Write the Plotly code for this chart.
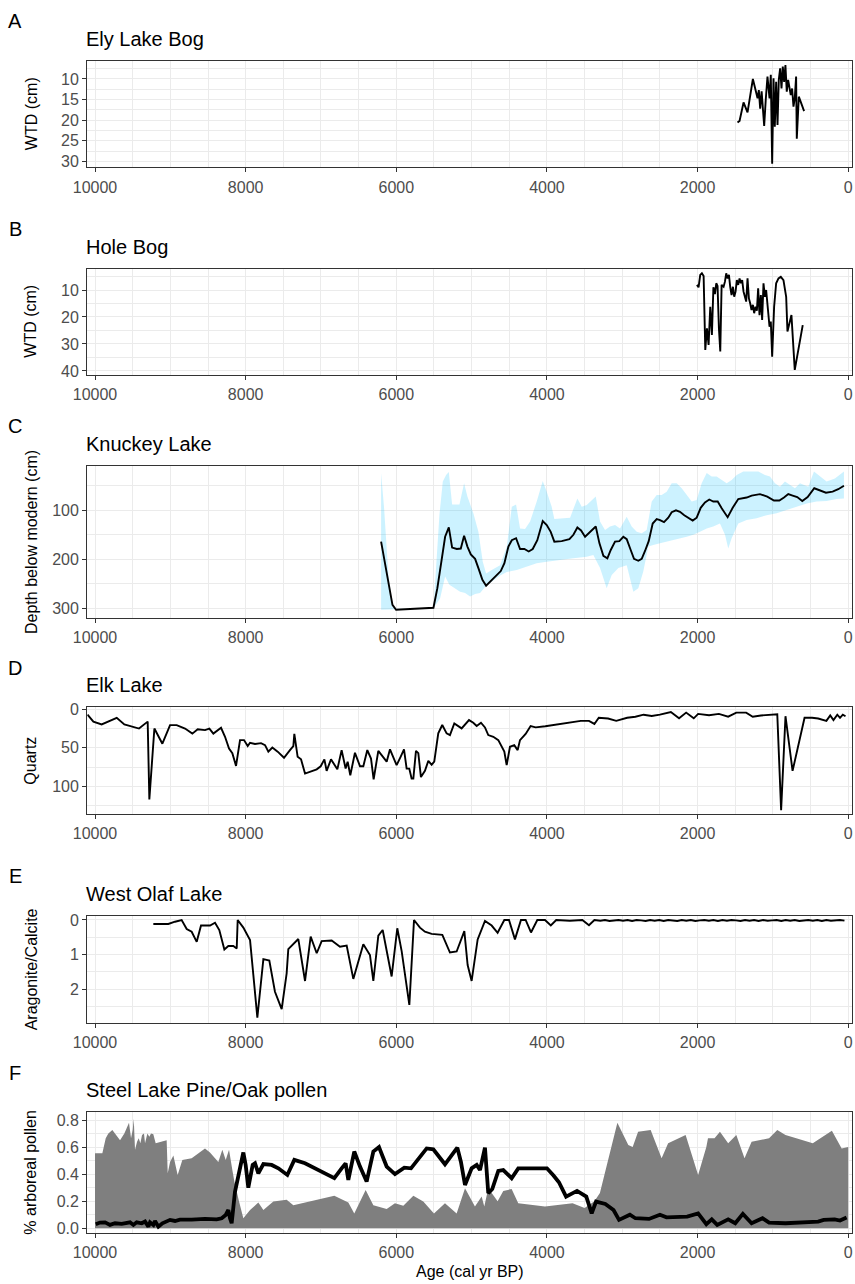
import plotly.graph_objects as go

# ---------------------------------------------------------------- data
# A: Ely Lake Bog water-table depth
ely_age = [1470, 1443, 1390, 1337, 1266, 1231, 1204, 1187, 1169, 1150, 1116, 1095,
           1072, 1045, 1028, 1010, 992, 975, 957, 939, 922, 904, 886, 869, 851, 834,
           816, 798, 780, 763, 745, 727, 710, 692, 683, 656, 586]
ely_wtd = [20.6, 20.2, 15.7, 18.1, 10.0, 12.4, 14.7, 12.7, 17.2, 13.0, 21.4, 15.0,
           9.4, 14.7, 9.0, 30.6, 9.8, 21.6, 10.7, 21.2, 10.2, 7.4, 12.3, 7.0, 10.7, 6.6,
           13.1, 10.2, 11.9, 13.9, 12.3, 16.7, 14.7, 9.4, 24.5, 14.3, 17.8]

# B: Hole Bog water-table depth
hole_age = [2009, 1987, 1965, 1943, 1920, 1898, 1876, 1854, 1832, 1810, 1790, 1770,
            1752, 1735, 1717, 1699, 1681, 1655, 1637, 1620, 1602, 1584, 1567, 1549,
            1531, 1514, 1496, 1479, 1461, 1443, 1425, 1408, 1390, 1372, 1355, 1337,
            1319, 1302, 1284, 1266, 1249, 1231, 1213, 1196, 1178, 1160, 1143, 1125,
            1107, 1090, 1063, 1045, 1028, 1010, 984, 957, 926, 895, 860, 824, 807,
            780, 754, 710, 604]
hole_wtd = [8.1, 9.0, 4.4, 3.8, 4.8, 32.2, 24.2, 30.4, 16.2, 26.7, 9.0, 11.5,
            7.5, 8.5, 24.2, 32.8, 8.1, 8.8, 6.9, 3.8, 5.7, 4.4, 8.8, 11.9,
            8.8, 12.5, 10.6, 6.3, 8.1, 5.7, 7.5, 6.3, 10.6, 12.5, 14.3, 5.7,
            13.1, 14.9, 17.4, 15.5, 18.6, 16.2, 17.7, 9.4, 19.3, 11.9, 21.1, 7.5,
            12.5, 10.0, 18.0, 23.6, 21.7, 34.7, 16.2, 7.5, 5.7, 5.1, 6.3, 12.5, 25.4,
            22.3, 19.3, 39.6, 23.0]

# C: Knuckey Lake reconstructed depth below modern, with uncertainty band
knuckey_age = [6202, 6126, 6051, 6003, 5507, 5455, 5397, 5352, 5303, 5259, 5197, 5144,
               5100, 5056, 5011, 4954, 4910, 4857, 4808, 4733, 4666, 4613, 4565, 4512,
               4467, 4410, 4357, 4300, 4242, 4189, 4128, 4056, 4003, 3950, 3902, 3804,
               3702, 3649, 3596, 3547, 3494, 3428, 3352, 3304, 3251, 3198, 3153, 3096,
               3039, 2986, 2941, 2888, 2844, 2787, 2742, 2698, 2649, 2596, 2543, 2499,
               2446, 2389, 2344, 2287, 2234, 2177, 2123, 2065, 2012, 1959, 1902, 1845,
               1792, 1733, 1680, 1601, 1534, 1460, 1349, 1282, 1172, 1075, 986, 915,
               853, 796, 738, 677, 610, 539, 451, 376, 296, 207, 133, 57]
knuckey_depth = [164, 232, 293, 303, 299, 259, 198, 154, 135, 176, 179, 178,
                 152, 174, 190, 199, 218, 242, 254, 242, 233, 224, 208, 174,
                 161, 157, 179, 179, 184, 179, 161, 122, 130, 144, 164, 163,
                 159, 150, 135, 141, 154, 144, 133, 167, 193, 198, 181, 164,
                 163, 154, 159, 181, 199, 203, 199, 183, 163, 127, 118, 120,
                 124, 115, 104, 100, 103, 110, 116, 121, 115, 95, 84, 78,
                 82, 82, 96, 114, 95, 77, 74, 70, 67, 72, 80, 80,
                 74, 67, 70, 73, 81, 73, 55, 59, 64, 62, 57, 50]

band_upper_age = [6202, 6162, 6105, 6051, 6003, 5507, 5428, 5383, 5339, 5303, 5259, 5162,
                  5100, 5056, 4977, 4910, 4852, 4808, 4733, 4622, 4533, 4467, 4410, 4357,
                  4291, 4224, 4136, 4056, 4003, 3937, 3902, 3693, 3596, 3538, 3472, 3352,
                  3295, 3229, 3163, 3096, 3030, 2941, 2875, 2808, 2742, 2676, 2609, 2543,
                  2477, 2410, 2344, 2277, 2211, 2145, 2078, 2012, 1946, 1879, 1813, 1747,
                  1680, 1614, 1548, 1481, 1393, 1194, 1105, 1039, 973, 906, 840, 774,
                  707, 641, 531, 455, 376, 287, 177, 57]
band_upper = [24, 96, 232, 297, 301, 301, 110, 41, 28, 22, 88, 88,
              45, 72, 106, 144, 205, 229, 222, 212, 174, 93, 88, 137,
              138, 123, 82, 40, 62, 93, 118, 115, 76, 93, 89, 72,
              123, 140, 133, 130, 137, 113, 133, 144, 147, 140, 82, 69,
              69, 62, 45, 45, 55, 69, 82, 79, 45, 24, 31, 31,
              38, 45, 38, 28, 21, 21, 28, 31, 45, 52, 41, 48,
              55, 45, 52, 21, 31, 41, 35, 21]

band_lower_age = [6202, 5507, 5419, 5352, 5295, 5220, 5153, 5087, 5020, 4954, 4888, 4808,
                  4733, 4622, 4533, 4401, 4268, 4136, 4003, 3826, 3649, 3472, 3384, 3295,
                  3207, 3140, 3052, 2941, 2853, 2787, 2721, 2654, 2588, 2499, 2410, 2322,
                  2234, 2145, 2057, 1968, 1879, 1792, 1703, 1636, 1593, 1548, 1460, 1349,
                  1216, 1083, 950, 818, 685, 552, 419, 287, 154, 57]
band_lower = [303, 300, 280, 235, 252, 259, 266, 269, 276, 271, 269, 254,
              246, 233, 226, 222, 215, 208, 205, 201, 198, 195, 191, 218,
              259, 232, 218, 212, 266, 259, 225, 174, 171, 167, 164, 160,
              157, 154, 150, 144, 137, 133, 127, 150, 178, 157, 127, 120,
              116, 110, 106, 99, 93, 86, 82, 81, 77, 76]

# D: Elk Lake quartz
elk_age = [10100, 10022, 9912, 9801, 9712, 9611, 9513, 9416, 9301, 9279, 9212, 9106,
           9004, 8916, 8805, 8708, 8637, 8540, 8482, 8429, 8327, 8274, 8221, 8177,
           8128, 8075, 8022, 7973, 7942, 7876, 7796, 7743, 7699, 7646, 7575, 7491,
           7412, 7367, 7354, 7310, 7265, 7212, 7057, 7004, 6955, 6925, 6867, 6783,
           6726, 6673, 6646, 6611, 6549, 6482, 6438, 6385, 6336, 6301, 6239, 6195,
           6128, 6084, 5996, 5943, 5898, 5863, 5828, 5797, 5774, 5739, 5708, 5673,
           5620, 5575, 5531, 5496, 5443, 5390, 5332, 5288, 5230, 5133, 5035, 4978,
           4933, 4876, 4823, 4779, 4712, 4646, 4566, 4535, 4491, 4434, 4389, 4358,
           4283, 4217, 4150, 4022, 3551, 3442, 3370, 3312, 3188, 3080, 2935, 2826,
           2717, 2609, 2500, 2355, 2246, 2152, 2051, 1993, 1848, 1717, 1594, 1486,
           1355, 1268, 1159, 942, 891, 833, 739, 580, 480, 399, 330, 290,
           239, 196, 145, 109, 72, 36]
elk_quartz = [7, 16, 19.7, 15, 11, 19.7, 22.8, 25, 16, 117, 25, 44.7,
              20.6, 20.6, 25, 31.6, 26, 27, 25, 31.6, 24, 35.7, 51, 57,
              73.5, 40, 40, 47.8, 43.5, 45, 44, 46.5, 55, 49.6, 55, 63,
              53, 47.8, 32, 61.7, 65, 83.5, 78, 74, 65, 80, 65, 78,
              53, 77, 68, 85.7, 56.5, 74, 74, 53, 64, 91, 54, 59.6,
              68, 52, 72.6, 61.7, 52, 77, 77, 90, 90, 54, 57, 88,
              80, 67, 72, 68, 31.3, 20.4, 31.3, 33.5, 18.3, 24.8, 14, 17.4,
              21.7, 17.4, 23.5, 33.5, 35.7, 40, 55, 72.6, 48.7, 46.5, 53, 40,
              32, 21.7, 23.5, 22, 15, 15, 19, 11, 12, 15, 11, 9.6,
              7, 8.7, 7, 3.5, 11.7, 4.3, 11.7, 6, 7.8, 6, 9.6, 4.3,
              4.3, 9.6, 8, 6.5, 131, 9, 80, 11, 11, 12, 14, 15,
              8, 14, 7, 11, 7, 9]

# E: West Olaf Lake aragonite/calcite ratio
olaf_age = [9226, 9027, 8938, 8850, 8783, 8717, 8650, 8593, 8473, 8407, 8350, 8283,
            8230, 8164, 8119, 8106, 8031, 7942, 7898, 7845, 7765, 7686, 7611, 7522,
            7456, 7434, 7301, 7212, 7137, 7057, 6991, 6858, 6748, 6659, 6571, 6438,
            6350, 6305, 6239, 6181, 6062, 5987, 5929, 5827, 5765, 5686, 5620, 5531,
            5389, 5288, 5199, 5097, 5053, 5000, 4920, 4823, 4734, 4655, 4566, 4504,
            4425, 4345, 4283, 4212, 4128, 4026, 3949, 3877, 3696, 3530, 3442, 3370,
            3290, 3230, 3170, 3110, 3050, 2990, 2930, 2870, 2810, 2750, 2690, 2630,
            2570, 2510, 2450, 2390, 2330, 2270, 2210, 2150, 2090, 2030, 1970, 1910,
            1850, 1790, 1730, 1670, 1610, 1550, 1490, 1430, 1370, 1310, 1250, 1190,
            1130, 1070, 1010, 950, 890, 830, 770, 710, 650, 590, 530, 470,
            410, 350, 290, 230, 170, 110, 50]
olaf_ratio = [0.115, 0.115, 0.05, 0.0, 0.26, 0.34, 0.63, 0.16, 0.16, 0.08, 0.29, 0.85,
              0.75, 0.75, 0.82, 0.0, 0.22, 0.58, 1.59, 2.82, 1.13, 1.17, 2.07, 2.57,
              1.54, 0.84, 0.55, 1.76, 0.48, 0.96, 0.61, 0.59, 0.77, 0.74, 1.70, 0.70,
              1.01, 1.76, 0.45, 0.29, 1.63, 0.24, 0.9, 2.45, 0.0, 0.22, 0.34, 0.40,
              0.43, 0.94, 0.91, 0.32, 1.3, 1.76, 0.56, 0.03, 0.16, 0.37, 0.0, 0.0,
              0.56, 0.0, 0.0, 0.36, 0.0, 0.0, 0.16, 0.0, 0.02, 0.0, 0.15, 0.0,
              0.02, 0.0, 0.03, 0.01, 0.0, 0.02, 0.0, 0.03, 0.0, 0.01, 0.03, 0.0,
              0.02, 0.0, 0.03, 0.0, 0.01, 0.03, 0.0, 0.02, 0.0, 0.03, 0.01, 0.0,
              0.02, 0.0, 0.03, 0.0, 0.02, 0.0, 0.01, 0.03, 0.0, 0.02, 0.0, 0.03,
              0.0, 0.02, 0.01, 0.0, 0.03, 0.0, 0.02, 0.0, 0.03, 0.01, 0.0, 0.02,
              0.0, 0.03, 0.0, 0.02, 0.01, 0.0, 0.02]

# F: Steel Lake pollen (grey area and black line)
steel_area_age = [10000, 9903, 9858, 9823, 9770, 9712, 9668, 9611, 9549, 9522, 9500, 9486,
                  9469, 9442, 9420, 9398, 9376, 9350, 9336, 9305, 9279, 9257, 9226, 9195,
                  9049, 9035, 9004, 8960, 8903, 8841, 8717, 8540, 8474, 8363, 8310, 8265,
                  8221, 8177, 8150, 8088, 8031, 7942, 7832, 7765, 7633, 7456, 7367, 6823,
                  6637, 6558, 6407, 6305, 6128, 6018, 5907, 5774, 5642, 5500, 5354, 5199,
                  5088, 4956, 4867, 4832, 4779, 4655, 4580, 4469, 4381, 4026, 3660, 3500,
                  3370, 3297, 3188, 3065, 2920, 2862, 2790, 2623, 2478, 2391, 2159, 1993,
                  1884, 1862, 1775, 1703, 1594, 1486, 1377, 1283, 1051, 942, 833, 471,
                  217, 87, 0]
steel_area = [0.555, 0.555, 0.665, 0.70, 0.727, 0.685, 0.65, 0.70, 0.78, 0.665, 0.727, 0.81,
              0.58, 0.64, 0.665, 0.628, 0.69, 0.70, 0.628, 0.70, 0.677, 0.70, 0.695, 0.628,
              0.65, 0.406, 0.49, 0.537, 0.394, 0.505, 0.517, 0.59, 0.56, 0.49, 0.58, 0.505,
              0.58, 0.43, 0.345, 0.197, 0.074, 0.135, 0.19, 0.135, 0.197, 0.21, 0.17, 0.24,
              0.19, 0.11, 0.283, 0.17, 0.143, 0.185, 0.167, 0.24, 0.197, 0.11, 0.185, 0.11,
              0.295, 0.16, 0.234, 0.16, 0.295, 0.20, 0.276, 0.29, 0.185, 0.16, 0.185, 0.15,
              0.20, 0.26, 0.50, 0.78, 0.616, 0.60, 0.714, 0.727, 0.517, 0.628, 0.69, 0.394,
              0.60, 0.665, 0.665, 0.714, 0.628, 0.69, 0.517, 0.64, 0.665, 0.727, 0.69, 0.628,
              0.72, 0.59, 0.60]

steel_line_age = [9991, 9934, 9867, 9801, 9735, 9646, 9535, 9491, 9447, 9380, 9336, 9292,
                  9270, 9226, 9204, 9159, 9106, 9004, 8938, 8872, 8717, 8540, 8385, 8318,
                  8265, 8230, 8208, 8186, 8142, 8088, 8031, 8000, 7965, 7907, 7876, 7832,
                  7765, 7655, 7566, 7447, 7354, 7212, 7080, 6947, 6823, 6726, 6673, 6637,
                  6558, 6482, 6394, 6305, 6230, 6181, 6128, 6018, 5894, 5805, 5708, 5597,
                  5509, 5354, 5190, 5142, 5088, 5000, 4933, 4889, 4823, 4779, 4726, 4646,
                  4580, 4469, 4381, 4000, 3913, 3841, 3746, 3601, 3478, 3406, 3348, 3225,
                  3116, 3043, 2899, 2826, 2645, 2500, 2413, 2138, 1993, 1884, 1812, 1739,
                  1594, 1500, 1399, 1283, 1138, 1051, 833, 543, 399, 326, 181, 109, 22]
steel_line = [0.03, 0.042, 0.044, 0.025, 0.037, 0.032, 0.044, 0.025, 0.044, 0.037, 0.05, 0.012,
              0.044, 0.025, 0.054, 0.012, 0.037, 0.062, 0.054, 0.064, 0.064, 0.069, 0.066, 0.074,
              0.098, 0.135, 0.074, 0.037, 0.27, 0.406, 0.56, 0.468, 0.30, 0.468, 0.48, 0.406,
              0.475, 0.468, 0.443, 0.394, 0.505, 0.48, 0.443, 0.406, 0.37, 0.443, 0.48, 0.357,
              0.567, 0.456, 0.345, 0.567, 0.60, 0.53, 0.456, 0.40, 0.448, 0.443, 0.517, 0.59,
              0.584, 0.473, 0.596, 0.49, 0.32, 0.443, 0.468, 0.43, 0.596, 0.26, 0.29, 0.424,
              0.43, 0.37, 0.443, 0.443, 0.39, 0.34, 0.234, 0.276, 0.234, 0.11, 0.197, 0.18,
              0.135, 0.062, 0.10, 0.074, 0.069, 0.10, 0.081, 0.086, 0.11, 0.03, 0.066, 0.025,
              0.066, 0.037, 0.106, 0.037, 0.074, 0.042, 0.037, 0.042, 0.049, 0.062, 0.066, 0.057, 0.079]

# axis labelling
age_ticks = [10000, 8000, 6000, 4000, 2000, 0]
tags = ["A", "B", "C", "D", "E", "F"]
titles = ["Ely Lake Bog", "Hole Bog", "Knuckey Lake", "Elk Lake", "West Olaf Lake",
          "Steel Lake Pine/Oak pollen"]
y_titles = ["WTD (cm)", "WTD (cm)", "Depth below modern (cm)", "Quartz",
            "Aragonite/Calcite", "% arboreal pollen"]
y_ticks = [[10, 15, 20, 25, 30], [10, 20, 30, 40], [100, 200, 300], [0, 50, 100],
           [0, 1, 2], [0.0, 0.2, 0.4, 0.6, 0.8]]
y_minor = [[7.5, 12.5, 17.5, 22.5, 27.5], [5, 15, 25, 35], [50, 150, 250], [25, 75, 125],
           [0.5, 1.5, 2.5], [0.1, 0.3, 0.5, 0.7]]
x_title = "Age (cal yr BP)"

# ---------------------------------------------------------------- layout geometry
W, H = 855, 1284
FONT = "Liberation Sans, Arial, Helvetica, sans-serif"
BOX_L, BOX_R = 87.2, 852.0
boxes = [(61.0, 167.3), (268.7, 374.7), (466.0, 618.0), (707.3, 814.0),
         (916.0, 1022.7), (1112.3, 1233.0)]
y_ranges = [[31.46, 5.63], [41.4, 2.1], [319.8, 9.6], [136.0, -2.6],
            [2.964, -0.115], [-0.035, 0.857]]
x_range = [10104, -50]

TICK_SIZE = 16
TITLE_SIZE = 20
AXIS_TITLE_SIZE = 16
GRID = "#EBEBEB"
DARK = "#333333"


def fx(px):
    return px / W


def fy(py):
    return 1 - py / H


fig = go.Figure()
line_style = dict(color="black", width=1.9)

fig.add_trace(go.Scatter(x=ely_age, y=ely_wtd, mode="lines", line=line_style,
                         xaxis="x", yaxis="y"))
fig.add_trace(go.Scatter(x=hole_age, y=hole_wtd, mode="lines", line=line_style,
                         xaxis="x2", yaxis="y2"))
fig.add_trace(go.Scatter(x=band_upper_age + band_lower_age[::-1],
                         y=band_upper + band_lower[::-1],
                         mode="lines", fill="toself", fillcolor="rgba(0,191,255,0.2)",
                         line=dict(width=0), xaxis="x3", yaxis="y3"))
fig.add_trace(go.Scatter(x=knuckey_age, y=knuckey_depth, mode="lines", line=line_style,
                         xaxis="x3", yaxis="y3"))
fig.add_trace(go.Scatter(x=elk_age, y=elk_quartz, mode="lines", line=line_style,
                         xaxis="x4", yaxis="y4"))
fig.add_trace(go.Scatter(x=olaf_age, y=olaf_ratio, mode="lines", line=line_style,
                         xaxis="x5", yaxis="y5"))
fig.add_trace(go.Scatter(x=steel_area_age, y=steel_area, mode="lines", fill="tozeroy",
                         fillcolor="#7F7F7F", line=dict(width=0),
                         xaxis="x6", yaxis="y6"))
fig.add_trace(go.Scatter(x=steel_line_age, y=steel_line, mode="lines",
                         line=dict(color="black", width=3.8),
                         xaxis="x6", yaxis="y6"))

layout = dict(
    width=W, height=H, autosize=False,
    margin=dict(l=0, r=0, t=0, b=0, pad=0, autoexpand=False),
    paper_bgcolor="white", plot_bgcolor="white",
    showlegend=False,
    font=dict(family=FONT, color="black"),
)

annotations = []
for i in range(6):
    top, bot = boxes[i]
    sfx = "" if i == 0 else str(i + 1)
    layout["xaxis" + sfx] = dict(
        domain=[fx(BOX_L), fx(BOX_R)], anchor="y" + sfx, range=x_range,
        tickmode="array", tickvals=age_ticks, ticktext=[str(t) for t in age_ticks],
        ticks="outside", ticklen=4, tickwidth=1.1, tickcolor=DARK, automargin=False,
        ticklabelstandoff=1,
        tickfont=dict(size=TICK_SIZE, color="#4D4D4D", family=FONT),
        showline=True, linecolor=DARK, linewidth=1.2, mirror=True,
        showgrid=True, gridcolor=GRID, gridwidth=1.4, zeroline=False,
        minor=dict(tickvals=list(range(0, 10001, 500)), showgrid=True,
                   gridcolor=GRID, gridwidth=0.7, ticks=""),
    )
    ydict = dict(
        domain=[fy(bot), fy(top)], anchor="x" + sfx, range=y_ranges[i],
        tickmode="array", tickvals=y_ticks[i],
        ticks="outside", ticklen=4, tickwidth=1.1, tickcolor=DARK, automargin=False,
        tickfont=dict(size=TICK_SIZE, color="#4D4D4D", family=FONT),
        showline=True, linecolor=DARK, linewidth=1.2, mirror=True,
        showgrid=True, gridcolor=GRID, gridwidth=1.4, zeroline=False,
        minor=dict(tickvals=y_minor[i], showgrid=True, gridcolor=GRID,
                   gridwidth=0.7, ticks=""),
    )
    if i == 5:
        ydict["tickformat"] = ".1f"
    layout["yaxis" + sfx] = ydict

    annotations.append(dict(text=tags[i], xref="paper", yref="paper",
                            x=fx(15), y=fy(top - 39.5), xanchor="center", yanchor="middle",
                            showarrow=False, font=dict(size=TITLE_SIZE, family=FONT, color="black")))
    annotations.append(dict(text=titles[i], xref="paper", yref="paper",
                            x=fx(BOX_L - 3), y=fy(top - 22), xanchor="left", yanchor="middle",
                            showarrow=False, font=dict(size=TITLE_SIZE, family=FONT, color="black")))
    annotations.append(dict(text=y_titles[i], xref="paper", yref="paper",
                            x=fx(31), y=fy((top + bot) / 2), xanchor="center",
                            yanchor="middle", textangle=-90, showarrow=False,
                            font=dict(size=AXIS_TITLE_SIZE, family=FONT, color="black")))

annotations.append(dict(text=x_title, xref="paper", yref="paper",
                        x=fx((BOX_L + BOX_R) / 2), y=fy(1271.7), xanchor="center",
                        yanchor="middle", showarrow=False,
                        font=dict(size=AXIS_TITLE_SIZE, family=FONT, color="black")))
layout["annotations"] = annotations

fig.update_layout(**layout)
# page without default body margin so the figure fills the window exactly
fig.write_html("out.html", post_script=(
    "document.documentElement.style.margin='0';"
    "document.body.style.margin='0';"
    "document.body.style.padding='0';"))
